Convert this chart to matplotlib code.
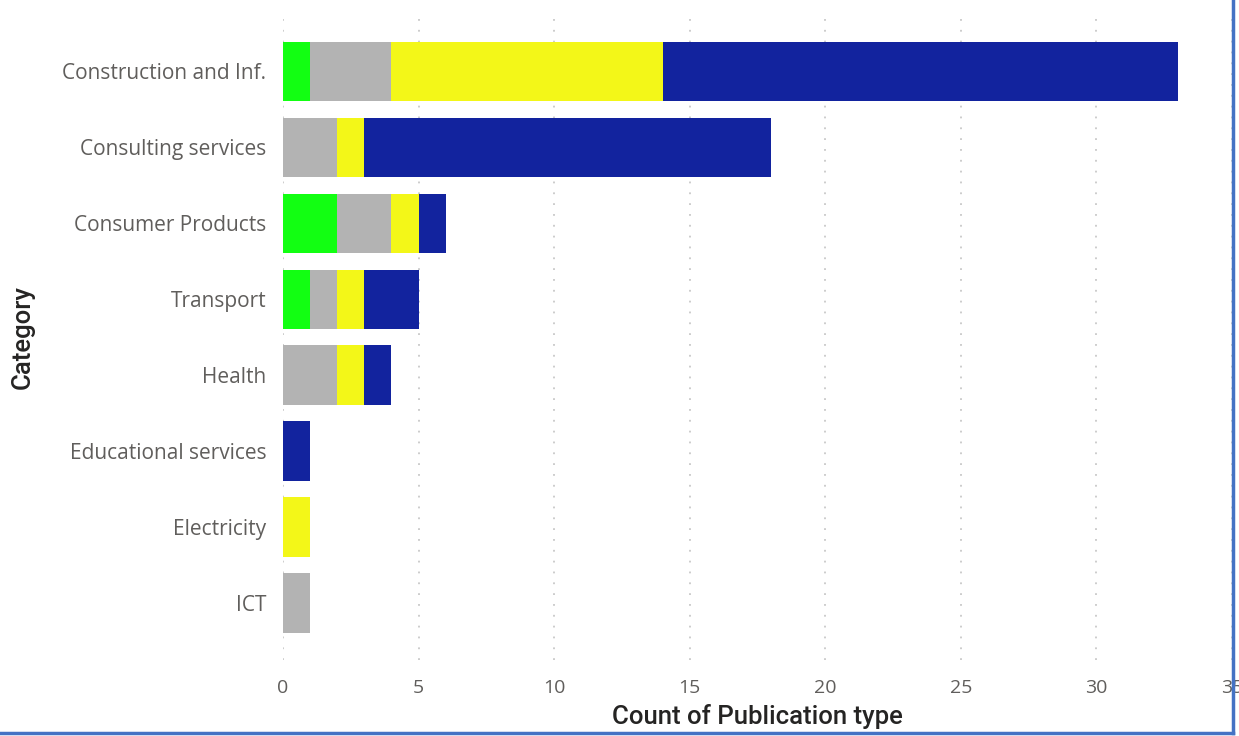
import matplotlib.pyplot as plt
from matplotlib.lines import Line2D

# data
categories = ['Construction and Inf.', 'Consulting services', 'Consumer Products',
              'Transport', 'Health', 'Educational services', 'Electricity', 'ICT']
green_vals = [1, 0, 2, 1, 0, 0, 0, 0]
gray_vals = [3, 2, 2, 1, 2, 0, 0, 1]
yellow_vals = [10, 1, 1, 1, 1, 0, 1, 0]
blue_vals = [19, 15, 1, 2, 1, 1, 0, 0]
x_ticks = [0, 5, 10, 15, 20, 25, 30, 35]

series = [
    (green_vals, '#12FF12'),
    (gray_vals, '#B3B3B3'),
    (yellow_vals, '#F3F718'),
    (blue_vals, '#12239E'),
]

fig = plt.figure(figsize=(12.39, 7.36), dpi=100)
ax = fig.add_axes([0.2284, 0.1033, 0.9943 - 0.2284, 0.9796 - 0.1033])

y_pos = list(range(len(categories)))
left = [0] * len(categories)
for vals, color in series:
    ax.barh(y_pos, vals, left=left, height=0.78, color=color, zorder=2)
    left = [l + v for l, v in zip(left, vals)]

ax.set_xlim(0, 35)
ax.set_ylim(7.75, -0.74)
ax.set_xticks(x_ticks)
ax.set_yticks(y_pos)
ax.set_yticklabels(categories, fontsize=15, color='#605E5C', family='Open Sans')
ax.set_xticklabels([str(t) for t in x_ticks], fontsize=14, color='#605E5C', family='Open Sans')
ax.tick_params(length=0)
ax.tick_params(axis='x', pad=14)
ax.tick_params(axis='y', pad=12)

for t in x_ticks:
    ax.axvline(t, color='#C8C8C8', linestyle=(0, (1, 5)), linewidth=1.3, zorder=1)

for s in ax.spines.values():
    s.set_visible(False)

ax.set_xlabel('Count of Publication type', fontsize=18.5, color='#252423',
              family='Roboto', fontweight='medium')
ax.set_ylabel('Category', fontsize=18.5, color='#252423',
              family='Roboto', fontweight='medium')
ax.xaxis.set_label_coords(0.5, -0.069)
ax.yaxis.set_label_coords(-0.262, 0.5)

# blue frame lines around the visual
fig.add_artist(Line2D([0, 0.9955], [0.0035, 0.0035], transform=fig.transFigure,
                      color='#4472C4', linewidth=2.5))
fig.add_artist(Line2D([0.9955, 0.9955], [0.0035, 1.0], transform=fig.transFigure,
                      color='#4472C4', linewidth=2.5))

fig.savefig('out.png', dpi=100)
